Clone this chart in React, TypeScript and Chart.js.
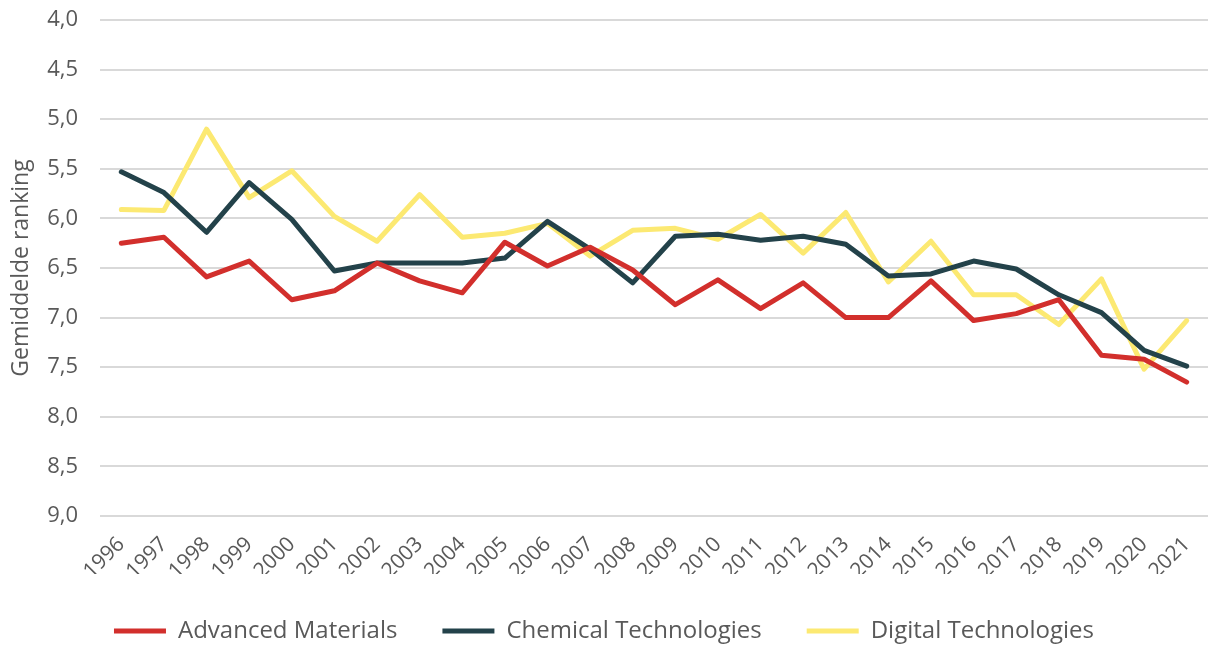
import React, { useEffect, useRef } from "react";
import { Chart, registerables } from "chart.js";

Chart.register(...registerables);

const years = ["1996","1997","1998","1999","2000","2001","2002","2003","2004","2005","2006","2007","2008","2009","2010","2011","2012","2013","2014","2015","2016","2017","2018","2019","2020","2021"];

const advancedMaterials = [6.25,6.19,6.59,6.43,6.82,6.73,6.45,6.63,6.75,6.24,6.48,6.29,6.52,6.87,6.62,6.91,6.65,7.00,7.00,6.63,7.03,6.96,6.82,7.38,7.42,7.65];
const chemicalTechnologies = [5.53,5.74,6.14,5.64,6.01,6.53,6.45,6.45,6.45,6.40,6.03,6.31,6.65,6.18,6.16,6.22,6.18,6.26,6.58,6.56,6.43,6.51,6.77,6.95,7.33,7.49];
const digitalTechnologies = [5.91,5.92,5.10,5.79,5.52,5.98,6.23,5.76,6.19,6.15,6.05,6.38,6.12,6.10,6.21,5.96,6.35,5.94,6.64,6.23,6.77,6.77,7.07,6.61,7.52,7.03];

const seriesNames = ["Advanced Materials", "Chemical Technologies", "Digital Technologies"];
const seriesColors = ["#d22f2c", "#23424a", "#fce972"];

const yMin = 4;
const yMax = 9;
const yStep = 0.5;
const yTitle = "Gemiddelde ranking";

const FONT = "'Open Sans', 'Noto Sans', sans-serif";
const TEXT = "#595959";

export default function App() {
  const ref = useRef<HTMLCanvasElement | null>(null);

  useEffect(() => {
    if (!ref.current) return;
    const values = [advancedMaterials, chemicalTechnologies, digitalTechnologies];
    const chart = new Chart(ref.current, {
      type: "line",
      data: {
        labels: years,
        datasets: values.map((v, i) => ({
          label: seriesNames[i],
          data: v,
          borderColor: seriesColors[i],
          backgroundColor: seriesColors[i],
          borderWidth: 5,
          pointRadius: 0,
          pointHoverRadius: 0,
          tension: 0,
          borderJoinStyle: "round" as const,
          borderCapStyle: "round" as const,
          fill: false,
        })),
      },
      options: {
        animation: false,
        responsive: false,
        maintainAspectRatio: false,
        layout: { padding: { top: 20, right: 0, bottom: 0, left: 0 } },
        plugins: {
          tooltip: { enabled: false },
          legend: {
            position: "bottom",
            maxHeight: 74,
            labels: {
              usePointStyle: true,
              pointStyle: "line",
              pointStyleWidth: 52,
              boxHeight: 24,
              padding: 45,
              color: TEXT,
              font: { family: FONT, size: 24 },
            },
          },
        },
        scales: {
          x: {
            offset: true,
            grid: { display: false, drawTicks: false },
            border: { display: false },
            ticks: {
              color: TEXT,
              font: { family: FONT, size: 21 },
              minRotation: 45,
              maxRotation: 45,
              autoSkip: false,
              padding: 16,
            },
            afterFit: (s: any) => {
              s.height = 58;
              s.paddingRight = 0;
              s.paddingLeft = 0;
            },
          },
          y: {
            reverse: true,
            min: yMin,
            max: yMax,
            grid: { color: "#d9d9d9", lineWidth: 2, drawTicks: false },
            border: { display: false },
            ticks: {
              stepSize: yStep,
              color: TEXT,
              padding: 22,
              font: { family: FONT, size: 22 },
              callback: (v: any) => Number(v).toFixed(1).replace(".", ","),
            },
            title: {
              display: true,
              text: yTitle,
              color: TEXT,
              font: { family: FONT, size: 23 },
              padding: { top: 8, bottom: 0 },
            },
            afterFit: (s: any) => {
              s.width = 100;
              s.paddingTop = 0;
              s.paddingBottom = 0;
            },
          },
        },
      },
    });
    return () => chart.destroy();
  }, []);

  return (
    <div style={{ position: "fixed", left: 0, top: 0, width: 1208, height: 648, background: "#fff" }}>
      <canvas ref={ref} width={1208} height={648} style={{ width: 1208, height: 648 }} />
    </div>
  );
}
